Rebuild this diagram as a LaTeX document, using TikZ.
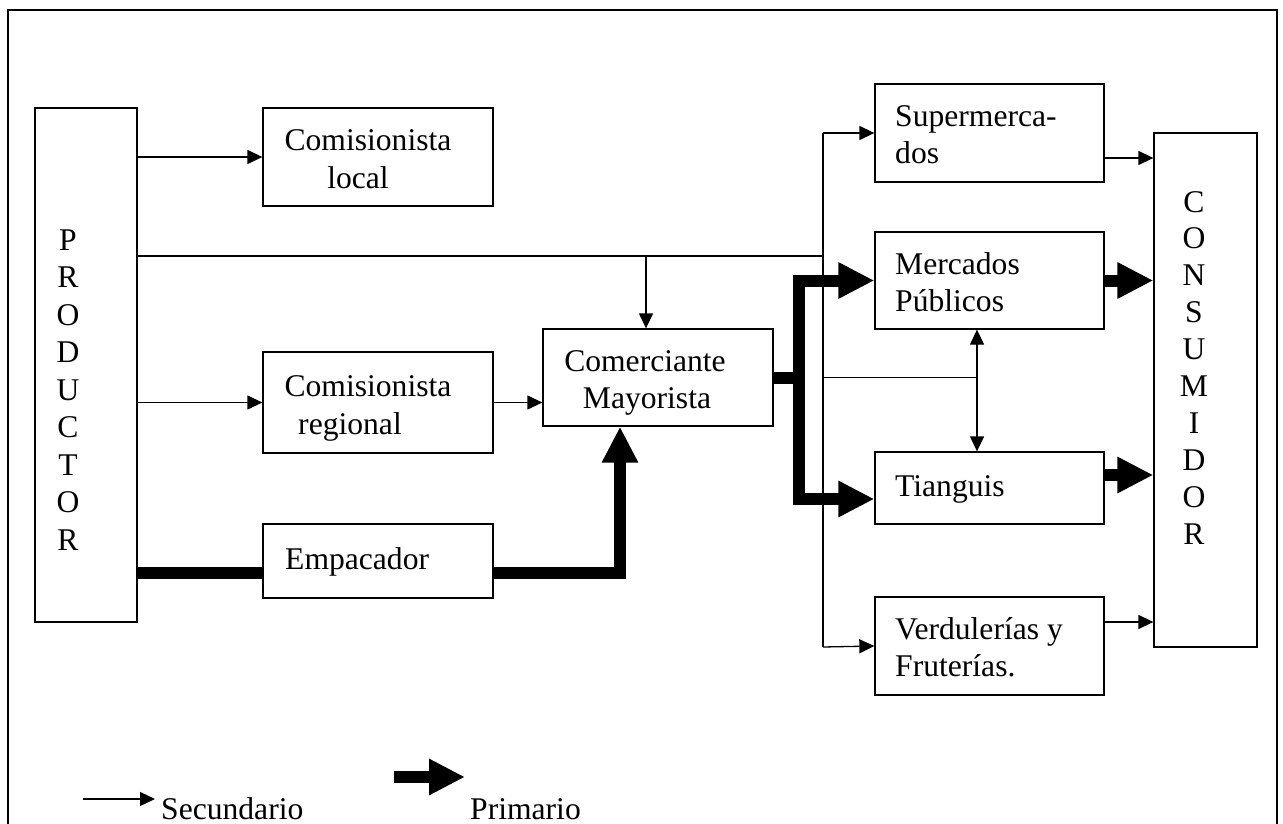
\documentclass[tikz,border=0pt]{standalone}
\usepackage{fontspec}
\setmainfont{Liberation Serif}
\usetikzlibrary{arrows.meta}
\begin{document}
\begin{tikzpicture}[x=1pt,y=-1pt,
  thinl/.style={line width=1.3pt},
  box/.style={draw, line width=1.3pt, inner sep=0pt},
  sec/.style={thinl, -{Triangle[length=15pt,width=14pt]}},
  dbl/.style={thinl, {Triangle[length=15pt,width=14pt]}-{Triangle[length=15pt,width=14pt]}},
  thickl/.style={line width=12pt, line join=miter},
  prim/.style={thickl, -{Triangle[length=36pt,width=34pt]}},
  txt/.style={inner sep=0pt, font=\fontsize{31.6}{37.5}\selectfont},
]
\useasboundingbox (0,0) rectangle (1283,824);
\clip (0,0) rectangle (1283,824);
\draw[thinl] (8,10) rectangle (1277,900);

% boxes
\node[box, minimum width=102pt, minimum height=514pt] (prod) at (86,365) {};
\node[box, minimum width=230pt, minimum height=98pt] (local) at (378,157) {};
\node[box, minimum width=230pt, minimum height=101pt] (reg) at (378,402.5) {};
\node[box, minimum width=230pt, minimum height=74pt] (emp) at (378,561) {};
\node[box, minimum width=230pt, minimum height=97pt] (com) at (658,377.5) {};
\node[box, minimum width=229pt, minimum height=98pt] (super) at (989.5,133) {};
\node[box, minimum width=229pt, minimum height=97pt] (merc) at (989.5,280.5) {};
\node[box, minimum width=229pt, minimum height=72pt] (tian) at (989.5,488) {};
\node[box, minimum width=229pt, minimum height=98pt] (verd) at (989.5,646) {};
\node[box, minimum width=103pt, minimum height=514pt] (cons) at (1205.5,390) {};

% texts
\foreach \l [count=\i] in {P,R,O,D,U,C,T,O,R}
  \node[txt, anchor=base] (p\i) at (68,{250+37.5*(\i-1)}) {\l};
\foreach \l [count=\i] in {C,O,N,S,U,M,I,D,O,R}
  \node[txt, anchor=base] (c\i) at (1194,{212+36.9*(\i-1)}) {\l};
\node[txt, anchor=base] (tlocal1) at (368,151) {Comisionista};
\node[txt, anchor=base] (tlocal2) at (358,189) {local};
\node[txt, anchor=base] (treg1) at (368,396) {Comisionista};
\node[txt, anchor=base] (treg2) at (350,434) {regional};
\node[txt, anchor=base west] (temp) at (285,569) {Empacador};
\node[txt, anchor=base] (tcom1) at (645,371) {Comerciante};
\node[txt, anchor=base] (tcom2) at (647,408) {Mayorista};
\node[txt, anchor=base west] (tsup1) at (895,127) {Supermerca-};
\node[txt, anchor=base west] (tsup2) at (895,164) {dos};
\node[txt, anchor=base west] (tmer1) at (895,274) {Mercados};
\node[txt, anchor=base west] (tmer2) at (895,311) {Públicos};
\node[txt, anchor=base west] (ttia) at (895,496) {Tianguis};
\node[txt, anchor=base west] (tver1) at (895,639) {Verdulerías y};
\node[txt, anchor=base west] (tver2) at (895,676) {Fruterías.};

% coordinates
\coordinate (h1) at (823,256);
\coordinate (b1) at (646,256);
\coordinate (vt) at (823,133);
\coordinate (vb) at (823,647);
\coordinate (e1) at (620,573);
\coordinate (c1) at (799,377.5);
\coordinate (m1) at (977,377.5);

% secondary connectors
\draw[sec] (prod.east |- local.west) -- (local.west);
\draw[thinl] (prod.east |- h1) -- (h1);
\draw[sec] (b1) -- (b1 |- com.north);
\draw[sec] (prod.east |- reg.west) -- (reg.west);
\draw[sec] (reg.east) -- (reg.east -| com.west);
\draw[thinl] (vt) -- (vb);
\draw[sec] (vt) -- (super.west);
\draw[sec] (vb) -- (verd.west);
\draw[thinl] (vt |- m1) -- (m1);
\draw[dbl] (m1 |- merc.south) -- (m1 |- tian.north);
\draw[sec] ([yshift=-25pt]super.east) -- ([yshift=-25pt]super.east -| cons.west);
\draw[sec] ([yshift=24pt]verd.east) -- ([yshift=24pt]verd.east -| cons.west);

% primary connectors
\draw[thickl] (prod.east |- e1) -- (emp.west |- e1);
\draw[prim] (emp.east |- e1) -- (e1) -- (e1 |- com.south);
\draw[thickl] (com.east) -- ([xshift=6pt]c1);
\draw[prim] (c1) |- (merc.west);
\draw[prim] (c1) |- ([yshift=-11pt]tian.west);
\draw[prim] (merc.east) -- (merc.east -| cons.west);
\draw[prim] ([yshift=13pt]tian.east) -- ([yshift=13pt]tian.east -| cons.west);

% legend
\coordinate (l1) at (83,799);
\coordinate (l2) at (155,799);
\draw[sec] (l1) -- (l2);
\node[txt, anchor=base west] (lsec) at (161,819) {Secundario};
\coordinate (l3) at (394,777);
\coordinate (l4) at (465,777);
\draw[prim] (l3) -- (l4);
\node[txt, anchor=base west] (lprim) at (470,819) {Primario};
\end{tikzpicture}
\end{document}
